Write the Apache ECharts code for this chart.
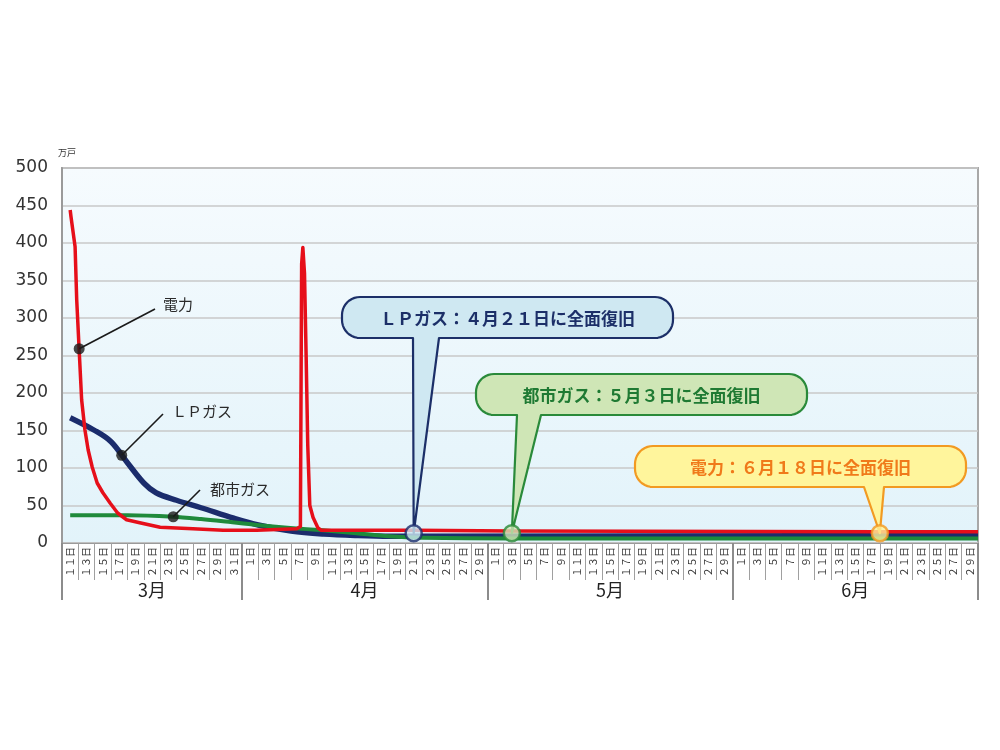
<!DOCTYPE html>
<html><head><meta charset="utf-8">
<script src="https://cdn.jsdelivr.net/npm/echarts@6/dist/echarts.min.js"></script>
<style>html,body{margin:0;padding:0;background:#fff;}#c{width:1000px;height:750px;}</style>
</head><body><div id="c"></div>
<script>
// ---- tick labels ----
const dayLabels = [
  '１１日','１３日','１５日','１７日','１９日','２１日','２３日','２５日','２７日','２９日','３１日',
  '１日','３日','５日','７日','９日','１１日','１３日','１５日','１７日','１９日','２１日','２３日','２５日','２７日','２９日',
  '１日','３日','５日','７日','９日','１１日','１３日','１５日','１７日','１９日','２１日','２３日','２５日','２７日','２９日',
  '１日','３日','５日','７日','９日','１１日','１３日','１５日','１７日','１９日','２１日','２３日','２５日','２７日','２９日'
];
const monthLabels = ['3月','4月','5月','6月'];
const yTicks = [0,50,100,150,200,250,300,350,400,450,500];

// ---- series (month/day, 万戸) ----
const elecDates  = ['3/11','3/11.1','3/11.3','3/11.6','3/11.8','3/12.1','3/12.4','3/12.8','3/13.2','3/13.7','3/14.3','3/15','3/15.9','3/16.8','3/17.9','3/19.5','3/22','3/26','3/29.7','4/1.8','4/6.7','4/7.15','4/7.3','4/7.45','4/7.65','4/7.85','4/8.05','4/8.3','4/8.7','4/9.3','4/9.7','4/18','4/21','5/3','6/18','6/30'];
const elecValues = [444,435,433,395,324,257,191,151,124,101,80,67,53,40,31,27,21,19,17,17,19,22,372,394,360,250,130,50,34,20,17,17,17,16,15,15];

const lpDates  = ['3/11','3/14','3/16','3/18','3/20','3/21.5','3/24','3/27','3/31','4/2','4/6','4/10','4/14','4/18','4/21','6/30'];
const lpValues = [167,150,135,107,80,67,57,47,33,24,16,12,10,9,9,10];

const gasDates  = ['3/11','3/18','3/23.6','3/27','3/29.7','4/1.8','4/5.9','4/9.9','4/14','4/18','4/22','5/3','6/30'];
const gasValues = [37,37,35,32,29,24,20,17,13,9,7,6,6];

const seriesNames = ['電力','ＬＰガス','都市ガス'];
const labelDotDates  = ['3/12.1','3/17.3','3/23.6'];
const labelDotValues = [259,117,35];

const recoveryDates  = ['4/21','5/3','6/18'];
const recoveryValues = [13,13,13];
const recoveryTexts  = ['ＬＰガス：４月２１日に全面復旧','都市ガス：５月３日に全面復旧','電力：６月１８日に全面復旧'];

// ---- date -> axis position (each label cell spans one unit) ----
const monthStart = {3:0,4:11,5:26,6:41};
const monthFirst = {3:11,4:1,5:1,6:1};
function pos(s){ const p=s.split('/'); const m=+p[0], d=parseFloat(p[1]); return monthStart[m]+(d-monthFirst[m])/2+0.5; }
function pts(dates, vals){ return dates.map((d,i)=>[pos(d), vals[i]]); }

const RED='#e60f1a', NAVY='#1b2c6c', GREEN='#1f8a3b';
const cellTicks=[]; for(let i=0;i<=dayLabels.length;i++) cellTicks.push(i);
const cellCenters=dayLabels.map((_,i)=>i+0.5);
const monthBounds=[0,11,26,41,56];
const monthCenters=[5.5,18.5,33.5,48.5];

const chart = echarts.init(document.getElementById('c'), null, {renderer:'canvas'});
const option = {
  animation:false,
  backgroundColor:'#ffffff',
  grid:{left:62,right:22,top:168,bottom:207,show:true,borderColor:'#a8a8a8',borderWidth:2,
    backgroundColor:new echarts.graphic.LinearGradient(0,0,0,1,[{offset:0,color:'#f6fbfe'},{offset:1,color:'#e2f3fa'}])},
  xAxis:[
    {type:'value',min:0,max:56,position:'bottom',
     axisLine:{show:true,lineStyle:{color:'#9a9a9a',width:1}},
     splitLine:{show:false},
     axisTick:{show:true,customValues:cellTicks,length:37,lineStyle:{color:'#a0a0a0',width:1}},
     axisLabel:{show:true,customValues:cellCenters,rotate:90,margin:4,fontSize:10,color:'#333',
       fontFamily:'"Noto Sans CJK JP"',formatter:v=>dayLabels[Math.floor(v)]}},
    {type:'value',min:0,max:56,position:'bottom',
     axisLine:{show:false},splitLine:{show:false},
     axisTick:{show:true,customValues:monthBounds,length:57,lineStyle:{color:'#8c8c8c',width:2}},
     axisLabel:{show:true,customValues:monthCenters,margin:38,fontSize:18,color:'#222',
       fontFamily:'"Noto Sans CJK JP"',formatter:v=>monthLabels[monthCenters.indexOf(v)]}}
  ],
  yAxis:{type:'value',min:0,max:500,interval:50,
    axisLine:{show:true,lineStyle:{color:'#9a9a9a',width:2}},
    axisTick:{show:false},
    axisLabel:{fontSize:17,color:'#333',margin:14,fontFamily:'"DejaVu Sans"'},
    splitLine:{lineStyle:{color:'#c8c8c8',width:1.5}}},
  series:[
    {name:seriesNames[1],type:'line',data:pts(lpDates,lpValues),symbol:'none',smooth:0.35,
     lineStyle:{color:NAVY,width:5.5,join:'round'},z:2},
    {name:seriesNames[2],type:'line',data:pts(gasDates,gasValues),symbol:'none',smooth:0.3,
     lineStyle:{color:GREEN,width:4,join:'round'},z:3},
    {name:seriesNames[0],type:'line',data:pts(elecDates,elecValues),symbol:'none',
     lineStyle:{color:RED,width:3.5,join:'round'},z:4},
    {name:'labelDots',type:'scatter',data:pts(labelDotDates,labelDotValues),symbolSize:11,
     itemStyle:{color:'#1a1a1a'},z:20},
    {name:'recovery',type:'scatter',symbolSize:16,z:30,
     data:recoveryDates.map((d,i)=>({value:[pos(d),recoveryValues[i]],
       itemStyle:{color:['#cde8f2','#cfe6b6','#fff59c'][i],borderColor:[NAVY,'#2a8a3a','#f29a22'][i],borderWidth:2.5}}))}
  ]
};
chart.setOption(option);

// ---- annotations ----
const px = (d,v)=>chart.convertToPixel({xAxisIndex:0,yAxisIndex:0},[pos(d),v]);
const bubbles=[
  {x1:342,y1:297,x2:673,y2:338,p1:413,p2:439,fill:'#cfe8f2',stroke:'#1c2f68',text:'#1c2f68'},
  {x1:476,y1:374,x2:807,y2:415,p1:517,p2:541,fill:'#cfe6b6',stroke:'#2a8a3a',text:'#1f7a33'},
  {x1:635,y1:446,x2:966,y2:487,p1:864,p2:884,fill:'#fff59c',stroke:'#f29a22',text:'#f07a1a'}
];
function bubblePoints(b,tip){
  const r=18, P=[];
  const arc=(cx,cy,a0,a1)=>{for(let k=0;k<=10;k++){const a=(a0+(a1-a0)*k/10)*Math.PI/180;P.push([cx+r*Math.cos(a),cy+r*Math.sin(a)]);}};
  arc(b.x2-r,b.y1+r,-90,0);
  arc(b.x2-r,b.y2-r,0,90);
  P.push([b.p2,b.y2]); P.push([tip[0],tip[1]]); P.push([b.p1,b.y2]);
  arc(b.x1+r,b.y2-r,90,180);
  arc(b.x1+r,b.y1+r,180,270);
  return P;
}
const graphics=[];
bubbles.forEach((b,i)=>{
  const tip=px(recoveryDates[i],recoveryValues[i]);
  graphics.push({type:'polygon',z:10,shape:{points:bubblePoints(b,tip)},
    style:{fill:b.fill,stroke:b.stroke,lineWidth:2.2,lineJoin:'round'}});
  graphics.push({type:'text',z:11,x:(b.x1+b.x2)/2,y:(b.y1+b.y2)/2+1,
    style:{text:recoveryTexts[i],fill:b.text,font:'bold 17px "Noto Sans CJK JP"',align:'center',verticalAlign:'middle'}});
});
const leaders=[{tx:155,ty:309,lx:163,ly:304},{tx:163,ty:414,lx:172,ly:411},{tx:200,ty:490,lx:210,ly:489}];
leaders.forEach((l,i)=>{
  const p=px(labelDotDates[i],labelDotValues[i]);
  graphics.push({type:'line',z:10,shape:{x1:p[0],y1:p[1],x2:l.tx,y2:l.ty},style:{stroke:'#1a1a1a',lineWidth:1.6}});
  graphics.push({type:'text',z:11,x:l.lx,y:l.ly,
    style:{text:seriesNames[i],fill:'#2a2a2a',font:'15px "Noto Sans CJK JP"',align:'left',verticalAlign:'middle'}});
});
graphics.push({type:'text',x:58,y:153,style:{text:'万戸',fill:'#333',font:'9px "Noto Sans CJK JP"',align:'left',verticalAlign:'middle'}});
chart.setOption({graphic:graphics});
</script></body></html>
